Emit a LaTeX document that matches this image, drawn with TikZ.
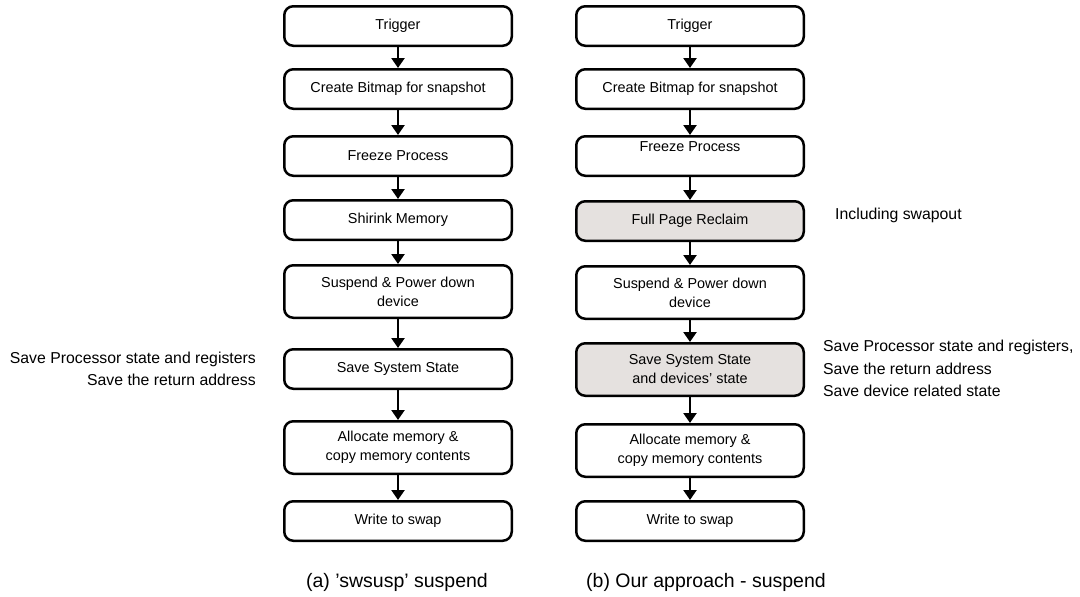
\documentclass[tikz,border=0pt]{standalone}
\usepackage{fontspec}
\setmainfont{Liberation Sans}
\usetikzlibrary{positioning, arrows.meta}
\definecolor{shade}{RGB}{229,225,223}

\begin{document}
\begin{tikzpicture}[
    x=1pt, y=1pt,
    node distance=23pt, % vertical spacing between steps
    stepbox/.style={draw, line width=2.5pt, rounded corners=9pt, minimum width=227.5pt,
        minimum height=39.5pt, align=center, inner sep=3pt, font=\fontsize{14.4}{19}\selectfont},
    tallbox/.style={stepbox, minimum height=52.5pt},
    newbox/.style={fill=shade},
    flow/.style={-{Triangle[width=13pt,length=10pt]}, line width=2.4pt},
    note/.style={inner sep=0pt, font=\fontsize{15.8}{22.5}\selectfont},
    caption/.style={font=\fontsize{19.5}{23}\selectfont}
]
    \useasboundingbox (0,0) rectangle (1080,-597);

    % (a) swsusp column
    \node[stepbox] (trigA) at (398,-26) {Trigger};
    \node[stepbox] (bmpA) [below=21pt of trigA] {Create Bitmap for snapshot};
    \node[stepbox] (frzA) [below=25pt of bmpA] {Freeze Process};
    \node[stepbox] (shrA) [below=22pt of frzA] {Shirink Memory};
    \node[tallbox] (suspA) [below=of shrA] {Suspend \& Power down\\device};
    \node[stepbox] (saveA) [below=29pt of suspA] {Save System State};
    \node[tallbox] (allocA) [below=30pt of saveA] {Allocate memory \&\\copy memory contents};
    \node[stepbox] (writeA) [below=25pt of allocA] {Write to swap};

    % (b) our approach column
    \node[stepbox] (trigB) at (690,-26) {Trigger};
    \node[stepbox] (bmpB) [below=21pt of trigB] {Create Bitmap for snapshot};
    \node[stepbox] (frzB) [below=25pt of bmpB] {Freeze Process\\\mbox{}};
    \node[stepbox, newbox] (fullB) [below=of frzB] {Full Page Reclaim};
    \node[tallbox] (suspB) [below=of fullB] {Suspend \& Power down\\device};
    \node[tallbox, newbox] (saveB) [below=22pt of suspB] {Save System State\\and devices' state};
    \node[tallbox] (allocB) [below=26pt of saveB] {Allocate memory \&\\copy memory contents};
    \node[stepbox] (writeB) [below=22pt of allocB] {Write to swap};

    % arrows
    \foreach \a/\b in {trigA/bmpA, bmpA/frzA, frzA/shrA, shrA/suspA, suspA/saveA,
        saveA/allocA, allocA/writeA, trigB/bmpB, bmpB/frzB, frzB/fullB, fullB/suspB,
        suspB/saveB, saveB/allocB, allocB/writeB}
        \draw[flow] (\a) -- (\b);

    % side notes
    \node[note, align=right] (noteA) [left=27pt of saveA] {Save Processor state and registers\\Save the return address};
    \node[note] (noteFull) [right=30pt of fullB, yshift=6pt] {Including swapout};
    \node[note, align=left] (noteB) [right=18pt of saveB, yshift=1pt] {Save Processor state and registers,\\Save the return address\\Save device related state};

    % captions
    \node[caption] (capA) at (397,-582) {(a) 'swsusp' suspend};
    \node[caption] (capB) at (706,-582) {(b) Our approach - suspend};
\end{tikzpicture}
\end{document}
